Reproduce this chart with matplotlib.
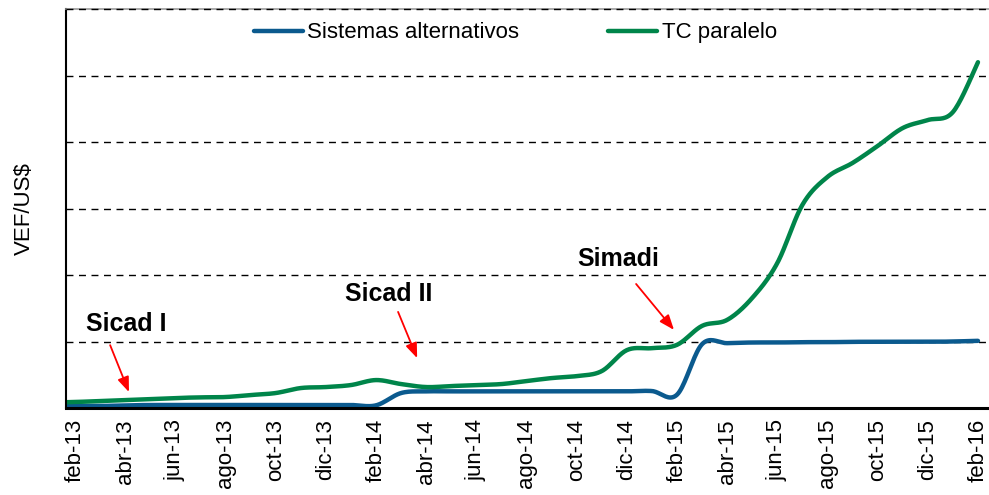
import matplotlib
matplotlib.use('Agg')
import matplotlib.pyplot as plt
import numpy as np

plt.rcParams['font.family'] = ['Liberation Sans', 'DejaVu Sans']

# monthly values, ene-13 .. feb-16 (VEF per US$)
months = ['ene-13', 'feb-13', 'mar-13', 'abr-13', 'may-13', 'jun-13', 'jul-13', 'ago-13',
          'sep-13', 'oct-13', 'nov-13', 'dic-13', 'ene-14', 'feb-14', 'mar-14', 'abr-14',
          'may-14', 'jun-14', 'jul-14', 'ago-14', 'sep-14', 'oct-14', 'nov-14', 'dic-14',
          'ene-15', 'feb-15', 'mar-15', 'abr-15', 'may-15', 'jun-15', 'jul-15', 'ago-15',
          'sep-15', 'oct-15', 'nov-15', 'dic-15', 'ene-16', 'feb-16']
alternativos = [6, 6, 6, 8, 9, 9, 9, 9, 9, 9, 9, 9, 9, 8, 45, 50,
                50, 50, 50, 50, 50, 50, 50, 50, 51, 40, 192, 195, 197, 197, 198, 198,
                199, 199, 199, 199, 200, 202]
paralelo = [16, 18, 21, 24, 27, 30, 32, 33, 39, 45, 60, 63, 69, 84, 72, 63,
            66, 69, 72, 81, 90, 96, 111, 174, 180, 190, 247, 265, 331, 436, 611, 695,
            737, 788, 842, 866, 890, 1040]

# annotations: (text, text position, arrow tail, arrow tip) in (month index from feb-13, value)
notes = [
    ('Sicad I', (2.03, 253), (1.40, 189), (2.15, 48)),
    ('Sicad II', (12.52, 343), (12.88, 289), (13.64, 150)),
    ('Simadi', (21.65, 448), (22.37, 373), (23.88, 235)),
]


def smooth(x, y, n=20):
    # Catmull-Rom curve through the points, like Excel's smoothed line
    x = np.asarray(x, float)
    y = np.asarray(y, float)
    px = np.concatenate([[x[0]], x, [x[-1]]])
    py = np.concatenate([[y[0]], y, [y[-1]]])
    xs, ys = [], []
    t = np.linspace(0, 1, n, endpoint=False)
    for i in range(1, len(px) - 2):
        for p, out in ((px, xs), (py, ys)):
            p0, p1, p2, p3 = p[i - 1], p[i], p[i + 1], p[i + 2]
            out.extend(0.5 * (2 * p1 + (-p0 + p2) * t + (2 * p0 - 5 * p1 + 4 * p2 - p3) * t ** 2
                              + (-p0 + 3 * p1 - 3 * p2 + p3) * t ** 3))
    xs.append(x[-1])
    ys.append(y[-1])
    return xs, ys


fig = plt.figure(figsize=(9.89, 4.95), dpi=100)
ax = fig.add_axes([66 / 989, 87 / 495, 923 / 989, 399 / 495])

idx = np.arange(len(months)) - 1  # feb-13 at 0
ax.plot(*smooth(idx, alternativos), color='#0B5A8E', lw=3.2, label='Sistemas alternativos',
        solid_capstyle='round')
ax.plot(*smooth(idx, paralelo), color='#00854A', lw=3.2, label='TC paralelo',
        solid_capstyle='round')

for label, txt, tail, tip in notes:
    ax.text(*txt, label, fontsize=18, fontweight='bold', ha='center', va='center')
    ax.annotate('', xy=tip, xytext=tail,
                arrowprops=dict(arrowstyle='-|>,head_length=0.9,head_width=0.35',
                                color='red', lw=1.3, shrinkA=0, shrinkB=0))

ax.set_xlim(-0.36, 36.44)
ax.set_ylim(0, 1200)
ax.set_xticks(idx[1::2])
ax.set_xticklabels(months[1::2], rotation=90, fontsize=16)
ax.set_yticks(np.arange(200, 1001, 200))
ax.set_yticklabels([])
ax.tick_params(length=0, pad=8)
ax.yaxis.grid(True, linestyle=(0, (5, 4)), color='black', lw=1)
ax.set_axisbelow(True)

ax.spines['right'].set_visible(False)
ax.spines['top'].set_color('#9a9a9a')
ax.spines['top'].set_linewidth(1.2)
ax.axhline(1200, color='black', lw=1, linestyle=(0, (5, 4)), zorder=3, clip_on=False)
ax.spines['left'].set_linewidth(1.5)
ax.spines['bottom'].set_linewidth(2.2)

ax.set_ylabel('VEF/US$', fontsize=16)
ax.yaxis.set_label_coords(-0.034, 0.5)

ax.legend(loc='upper center', bbox_to_anchor=(0.487, 1.0), ncol=2, frameon=False, fontsize=16,
          handlelength=2.2, handletextpad=0.2, columnspacing=4.0, borderaxespad=0.2)

fig.savefig('out.png', dpi=100)
